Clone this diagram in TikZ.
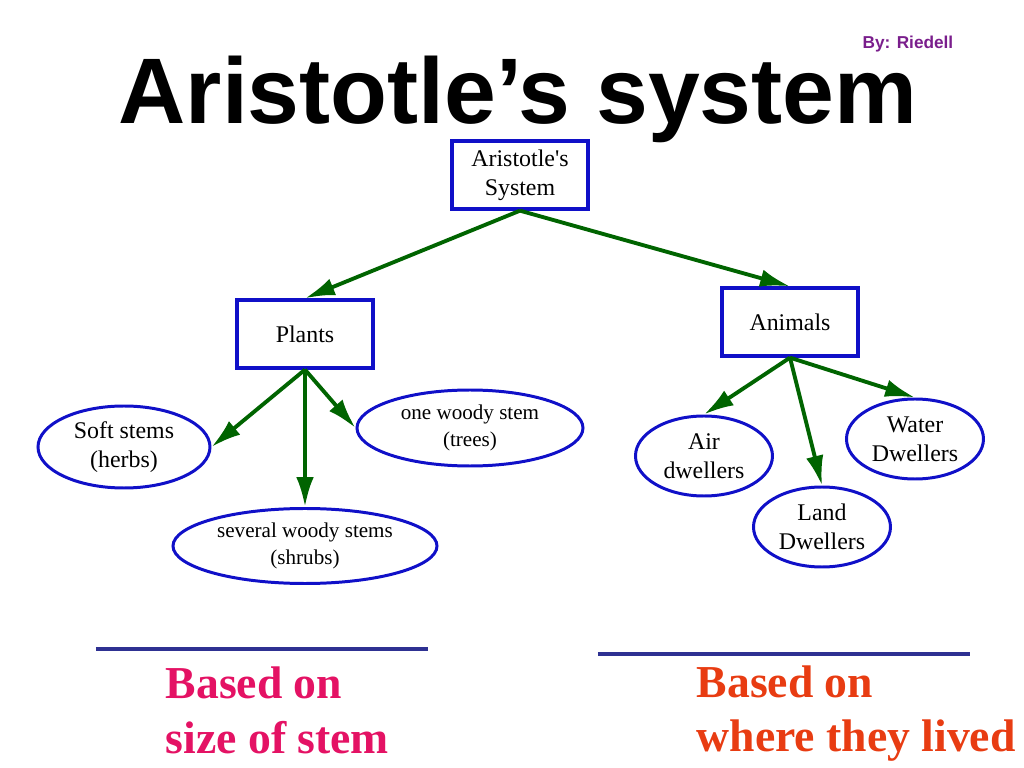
\documentclass[tikz,border=0pt]{standalone}
\usepackage{fontspec}
\setmainfont{Liberation Serif}
\setsansfont{Liberation Sans}
\usetikzlibrary{positioning,shapes.geometric,arrows.meta}

\definecolor{boxblue}{RGB}{16,16,200}
\definecolor{arrowgreen}{RGB}{0,100,0}
\definecolor{rulenavy}{RGB}{46,49,146}
\definecolor{stempink}{RGB}{228,18,100}
\definecolor{liveorange}{RGB}{232,60,18}
\definecolor{bypurple}{RGB}{122,30,140}

\begin{document}
\begin{tikzpicture}[
	on grid,
	classbox/.style={draw=boxblue,line width=0.95pt,rectangle,minimum width=1.36cm,minimum height=0.68cm,align=center,inner sep=0pt,font=\fontsize{6.8pt}{8.2pt}\selectfont},
	kindnode/.style={draw=boxblue,line width=0.85pt,ellipse,inner sep=0pt,align=center,font=\fontsize{6.8pt}{8.2pt}\selectfont},
	note/.style={anchor=base west,align=left,inner sep=0pt,font=\fontsize{13pt}{15.6pt}\selectfont\bfseries},
	rule/.style={draw=rulenavy,line width=1.1pt}
	]
	\useasboundingbox (-5.20,-5.93) rectangle (5.04,1.75);
	\node[anchor=base,inner sep=0pt,font=\sffamily\bfseries\fontsize{26.5pt}{30pt}\selectfont] (title) at (-0.02,0.51) {Aristotle’s system};
	\node[anchor=base,inner sep=0pt,text=bypurple,font=\sffamily\bfseries\fontsize{4.9pt}{6pt}\selectfont] (by) at (3.88,1.26) {By: Riedell};
	% the tree
	\node[classbox] (sys) at (0,0) {Aristotle\textquotesingle s\\System};
	\node[classbox,below left=1.59cm and 2.15cm of sys] (plants) {Plants};
	\node[classbox,below right=1.47cm and 2.70cm of sys] (animals) {Animals};
	\node[kindnode,minimum width=1.72cm,minimum height=0.82cm,below left=1.13cm and 1.81cm of plants] (soft) {Soft stems\\(herbs)};
	\node[kindnode,minimum width=2.64cm,minimum height=0.75cm,font=\fontsize{6pt}{7.6pt}\selectfont,below=2.12cm of plants] (shrubs) {several woody stems\\(shrubs)};
	\node[kindnode,minimum width=2.26cm,minimum height=0.76cm,font=\fontsize{6pt}{7.6pt}\selectfont,below right=0.94cm and 1.65cm of plants] (trees) {one woody stem\\(trees)};
	\node[kindnode,minimum width=1.37cm,minimum height=0.80cm,below left=1.34cm and 0.86cm of animals] (air) {Air\\dwellers};
	\node[kindnode,minimum width=1.37cm,minimum height=0.80cm,below right=2.05cm and 0.32cm of animals] (land) {Land\\Dwellers};
	\node[kindnode,minimum width=1.37cm,minimum height=0.80cm,below right=1.17cm and 1.25cm of animals] (water) {Water\\Dwellers};
	\path [-{Latex[length=8.5pt,width=5pt]},color=arrowgreen,line width=1.1pt]
	(sys.south) edge (plants.north)
	(sys.south) edge (animals.north)
	(plants.south) edge (soft.east)
	(plants.south) edge (shrubs.north)
	(plants.south) edge (trees.west)
	(animals.south) edge (air.north)
	(animals.south) edge (land.north)
	(animals.south) edge (water.north);
	% notes at the bottom
	\draw[rule] (-4.24,-4.74) -- (-0.92,-4.74);
	\draw[rule] (0.78,-4.79) -- (4.50,-4.79);
	\node[note,text=stempink] (plantnote) at (-3.55,-5.78) {Based on\\size of stem};
	\node[note,text=liveorange] (animalnote) at (1.76,-5.77) {Based on\\where they lived};
\end{tikzpicture}
\end{document}
